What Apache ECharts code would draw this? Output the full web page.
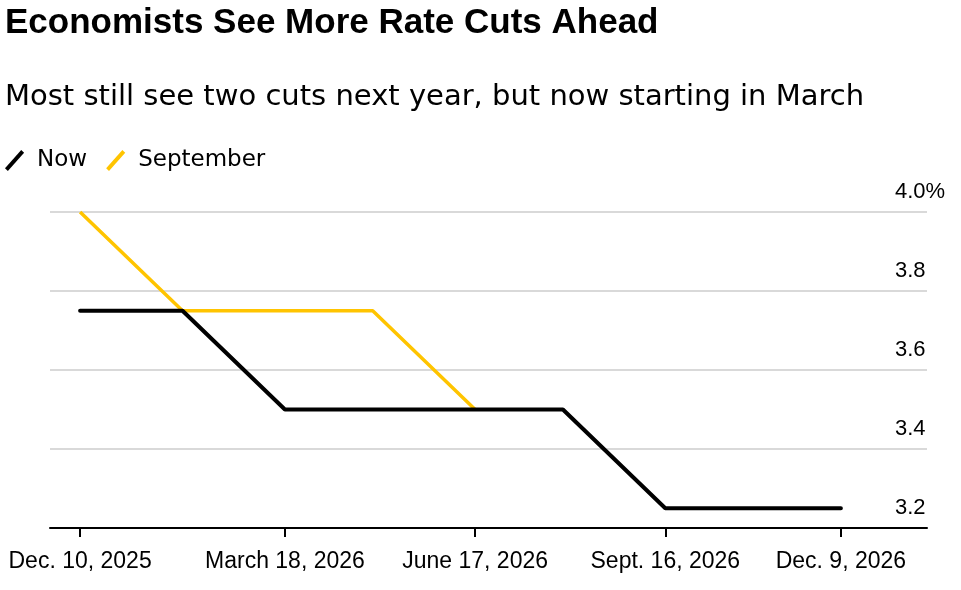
<!DOCTYPE html>
<html>
<head>
<meta charset="utf-8">
<script src="https://cdn.jsdelivr.net/npm/echarts@6/dist/echarts.min.js"></script>
<style>html,body{margin:0;padding:0;background:#fff}#c{width:961px;height:590px}</style>
</head>
<body>
<div id="c"></div>
<script>
var meetings = ['2025-12-10','2026-01-28','2026-03-18','2026-04-29','2026-06-17','2026-07-29','2026-09-16','2026-10-28','2026-12-09'];
var nowValues = [3.75, 3.75, 3.5, 3.5, 3.5, 3.5, 3.25, 3.25, 3.25];
var septemberValues = [4.0, 3.75, 3.75, 3.75, 3.5, null, null, null, null];
var tickDates = ['2025-12-10','2026-03-18','2026-06-17','2026-09-16','2026-12-09'];
var tickLabels = ['Dec. 10, 2025','March 18, 2026','June 17, 2026','Sept. 16, 2026','Dec. 9, 2026'];
var yTicks = [3.2, 3.4, 3.6, 3.8, 4.0];

var FONT = '"Liberation Sans", Arial, sans-serif';
var WIDE = '"DejaVu Sans", sans-serif';
var DAY = 86400000;
function ts(d){ return Date.parse(d + 'T00:00:00Z'); }
var tickVals = tickDates.map(ts);
function pairs(vals){ return meetings.map(function(d,i){ return [ts(d), vals[i]]; }).filter(function(p){ return p[1] != null; }); }

var chart = echarts.init(document.getElementById('c'));
chart.setOption({
  animation: false,
  backgroundColor: '#fff',
  title: [
    {text: 'Economists See More Rate Cuts Ahead', left: 0, top: 1,
     textStyle: {fontFamily: FONT, fontSize: 35, fontWeight: 'bold', color: '#000'}},
    {text: 'Most still see two cuts next year, but now starting in March', left: 0, top: 78,
     textStyle: {fontFamily: WIDE, fontSize: 29, fontWeight: 'normal', color: '#000'}}
  ],
  legend: {
    left: 0, top: 144, itemGap: 19, itemWidth: 21, itemHeight: 21,
    data: [
      {name: 'Now', icon: 'path://M0,19 L17,0 L20,3 L3,22 Z', itemStyle: {color: '#000'}},
      {name: 'September', icon: 'path://M0,19 L17,0 L20,3 L3,22 Z', itemStyle: {color: '#FFC400'}}
    ],
    textStyle: {fontFamily: WIDE, fontSize: 23, color: '#000', padding: [0,0,0,7]}
  },
  grid: {left: 50, right: 34, top: 212, bottom: 62},
  xAxis: {
    type: 'value',
    min: tickVals[0] - 14.4 * DAY,
    max: tickVals[4] + 41.2 * DAY,
    axisLine: {show: true, lineStyle: {color: '#000', width: 2}},
    axisTick: {show: true, customValues: tickVals, length: 9, lineStyle: {color: '#000', width: 2}},
    axisLabel: {
      customValues: tickVals, margin: 22,
      fontFamily: FONT, fontSize: 23, color: '#000',
      formatter: function(v){ var i = tickVals.indexOf(+v); return i >= 0 ? tickLabels[i] : ''; }
    },
    splitLine: {show: false}
  },
  yAxis: {
    type: 'value', position: 'right', min: 3.2, max: 4.0, interval: 0.2,
    axisLine: {show: false}, axisTick: {show: false},
    splitLine: {show: true, lineStyle: {color: '#d9d9d9', width: 2}},
    axisLabel: {
      margin: -32, align: 'left', verticalAlign: 'bottom', padding: [0,0,9,0],
      fontFamily: FONT, fontSize: 22, color: '#000',
      formatter: function(v){ var s = (Math.round(v*10)/10).toFixed(1); return Math.abs(v-4.0)<1e-6 ? s + '%' : s; }
    }
  },
  series: [
    {name: 'September', type: 'line', data: pairs(septemberValues), showSymbol: false, symbol: 'none',
     lineStyle: {color: '#FFC400', width: 3.5}, itemStyle: {color: '#FFC400'}, z: 2},
    {name: 'Now', type: 'line', data: pairs(nowValues), showSymbol: false, symbol: 'none',
     lineStyle: {color: '#000', width: 4, cap: 'round'}, itemStyle: {color: '#000'}, z: 3}
  ]
});
</script>
</body>
</html>
